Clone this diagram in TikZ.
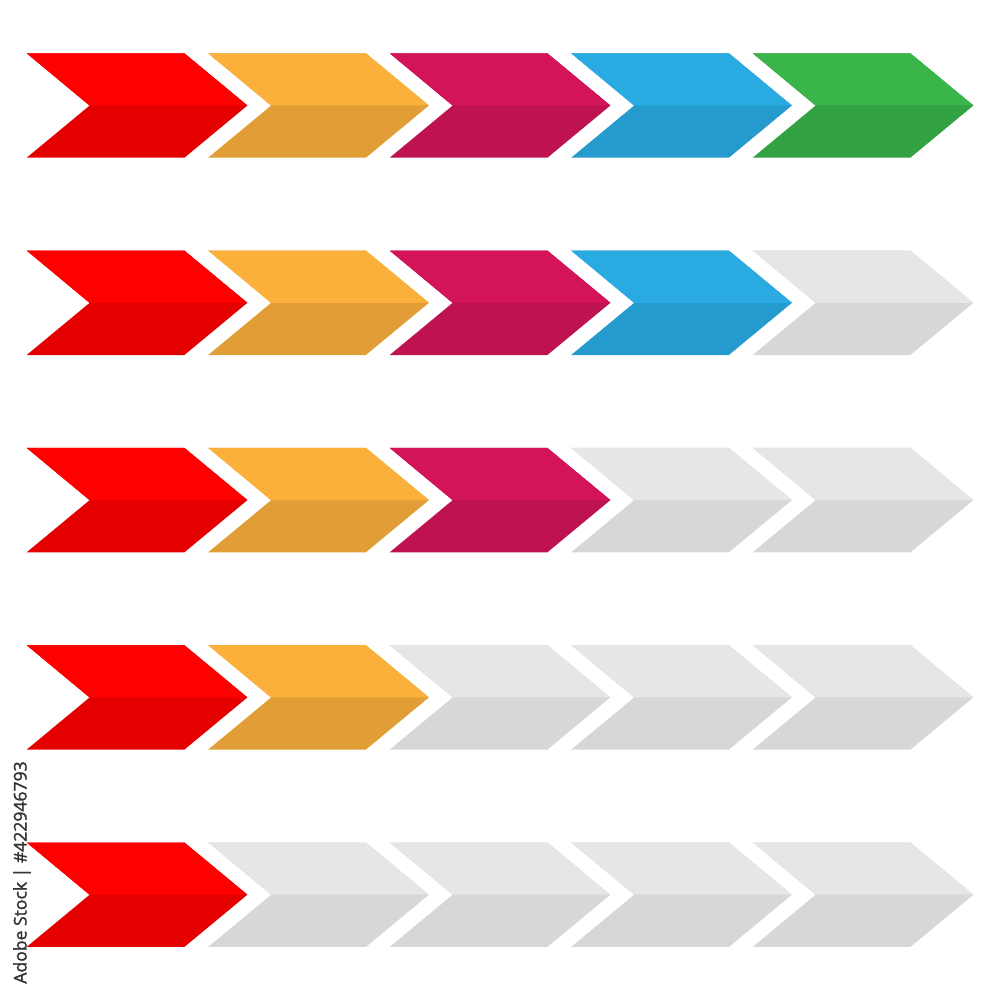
\documentclass[tikz,border=0pt]{standalone}
\usepackage{fontspec}
\newfontfamily\stockfont{Open Sans}[BoldFont={Open Sans}, BoldFeatures={FakeBold=1.5}]

\definecolor{chevRedUp}{HTML}{FF0000}
\definecolor{chevRedDn}{HTML}{E50000}
\definecolor{chevOrangeUp}{HTML}{FBB03B}
\definecolor{chevOrangeDn}{HTML}{E29E36}
\definecolor{chevMagentaUp}{HTML}{D4145A}
\definecolor{chevMagentaDn}{HTML}{BE1251}
\definecolor{chevBlueUp}{HTML}{29ABE2}
\definecolor{chevBlueDn}{HTML}{259ACC}
\definecolor{chevGreenUp}{HTML}{39B54A}
\definecolor{chevGreenDn}{HTML}{33A243}
\definecolor{chevGreyUp}{HTML}{E6E6E6}
\definecolor{chevGreyDn}{HTML}{D7D7D7}

\tikzset{
    upper/.style={fill=chev#1Up},
    lower/.style={fill=chev#1Dn},
}

\begin{document}
\begin{tikzpicture}[x=0.02cm, y=-0.02cm]

    \useasboundingbox (0,0) rectangle (1000,1000);

    %% Rows of chevrons, pitch 181.5 across, 197.3 down
    %% (whole chevron in the dark shade, lit top half over it)

    % Five of five
    \begin{scope}[shift={(26.7,53.3)}]
        \foreach \i/\c in {0/Red,1/Orange,2/Magenta,3/Blue,4/Green} {
            \fill[lower=\c] (181.5*\i,0) -- ++(157.7,0) -- ++(63,52.2) -- ++(-63,52.2) -- ++(-157.7,0) -- ++(63,-52.2) -- cycle;
            \fill[upper=\c] (181.5*\i,0) -- ++(157.7,0) -- ++(63,52.2) -- ++(-158,0) -- cycle;
        }
    \end{scope}

    % Four of five
    \begin{scope}[shift={(26.7,250.6)}]
        \foreach \i/\c in {0/Red,1/Orange,2/Magenta,3/Blue,4/Grey} {
            \fill[lower=\c] (181.5*\i,0) -- ++(157.7,0) -- ++(63,52.2) -- ++(-63,52.2) -- ++(-157.7,0) -- ++(63,-52.2) -- cycle;
            \fill[upper=\c] (181.5*\i,0) -- ++(157.7,0) -- ++(63,52.2) -- ++(-158,0) -- cycle;
        }
    \end{scope}

    % Three of five
    \begin{scope}[shift={(26.7,447.9)}]
        \foreach \i/\c in {0/Red,1/Orange,2/Magenta,3/Grey,4/Grey} {
            \fill[lower=\c] (181.5*\i,0) -- ++(157.7,0) -- ++(63,52.2) -- ++(-63,52.2) -- ++(-157.7,0) -- ++(63,-52.2) -- cycle;
            \fill[upper=\c] (181.5*\i,0) -- ++(157.7,0) -- ++(63,52.2) -- ++(-158,0) -- cycle;
        }
    \end{scope}

    % Two of five
    \begin{scope}[shift={(26.7,645.2)}]
        \foreach \i/\c in {0/Red,1/Orange,2/Grey,3/Grey,4/Grey} {
            \fill[lower=\c] (181.5*\i,0) -- ++(157.7,0) -- ++(63,52.2) -- ++(-63,52.2) -- ++(-157.7,0) -- ++(63,-52.2) -- cycle;
            \fill[upper=\c] (181.5*\i,0) -- ++(157.7,0) -- ++(63,52.2) -- ++(-158,0) -- cycle;
        }
    \end{scope}

    % One of five
    \begin{scope}[shift={(26.7,842.5)}]
        \foreach \i/\c in {0/Red,1/Grey,2/Grey,3/Grey,4/Grey} {
            \fill[lower=\c] (181.5*\i,0) -- ++(157.7,0) -- ++(63,52.2) -- ++(-63,52.2) -- ++(-157.7,0) -- ++(63,-52.2) -- cycle;
            \fill[upper=\c] (181.5*\i,0) -- ++(157.7,0) -- ++(63,52.2) -- ++(-158,0) -- cycle;
        }
    \end{scope}

    % Stock number
    \node[rotate=90, inner sep=0, text=black!80, font=\stockfont\bfseries\fontsize{10}{12}\selectfont] (stockid) at (22,872.5) {Adobe Stock | \#422946793};

\end{tikzpicture}
\end{document}
